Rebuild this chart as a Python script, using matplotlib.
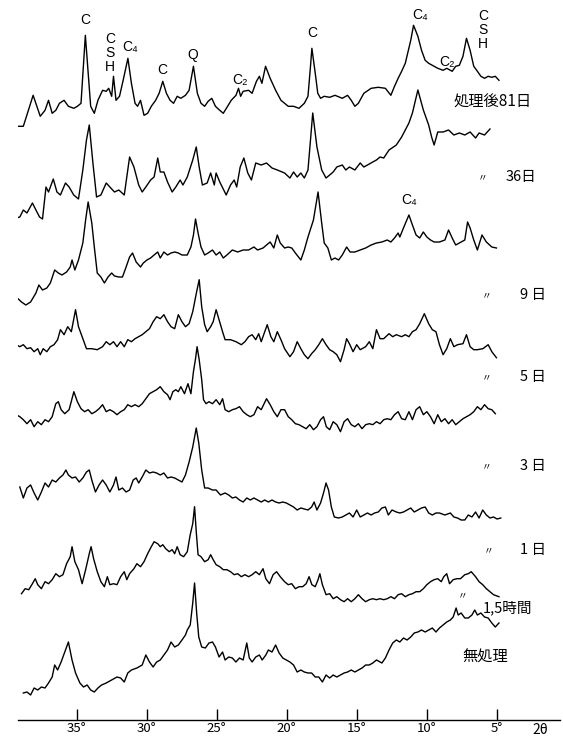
import numpy as np
from matplotlib import pyplot as plt

plt.rcParams['font.family'] = ['Noto Sans CJK JP', 'DejaVu Sans']

# XRD patterns: (2theta [deg], intensity [a.u.])
xrd_81d = [(39.45, 2), (38.81, 2), (38.11, 33), (37.60, 12), (37.26, 18), (37.01, 28), (36.75, 15), (36.49, 18),
           (36.23, 25), (35.90, 28), (35.59, 22), (35.20, 20), (34.95, 22), (34.69, 25), (34.38, 93), (34.00, 22),
           (33.74, 15), (33.48, 28), (33.15, 38), (32.89, 37), (32.71, 40), (32.50, 32), (32.37, 52), (32.19, 28),
           (31.94, 32), (31.68, 48), (31.34, 70), (31.09, 45), (30.83, 25), (30.65, 22), (30.44, 28), (30.19, 13),
           (29.93, 15), (29.67, 22), (29.36, 28), (29.11, 35), (28.85, 47), (28.59, 35), (28.33, 28), (28.08, 25),
           (27.82, 32), (27.56, 30), (27.23, 33), (26.97, 38), (26.66, 62), (26.38, 35), (26.12, 25), (25.86, 22),
           (25.61, 27), (25.35, 30), (25.09, 22), (24.78, 18), (24.53, 15), (24.22, 22), (23.96, 28), (23.62, 33),
           (23.44, 40), (23.29, 32), (23.11, 37), (22.72, 38), (22.47, 35), (22.16, 47), (21.95, 52), (21.77, 45),
           (21.51, 62), (21.18, 50), (20.79, 38), (20.41, 28), (19.89, 22), (19.51, 22), (19.12, 20), (18.74, 25),
           (18.48, 32), (18.30, 62), (18.20, 80), (17.96, 55), (17.78, 35), (17.58, 30), (17.32, 32), (16.93, 31),
           (16.55, 33), (16.03, 30), (15.65, 33), (15.39, 28), (15.13, 22), (14.88, 25), (14.49, 35), (13.97, 40),
           (13.46, 41), (12.95, 40), (12.56, 33), (12.30, 42), (12.04, 50), (11.79, 57), (11.53, 65), (11.14, 88),
           (10.94, 103), (10.63, 92), (10.37, 78), (10.11, 68), (9.86, 65), (9.60, 63), (9.21, 60), (8.83, 58),
           (8.57, 60), (8.18, 57), (7.93, 62), (7.67, 63), (7.41, 72), (7.16, 90), (6.90, 78), (6.64, 62),
           (6.38, 57), (6.13, 52), (5.87, 50), (5.61, 52), (5.35, 51), (5.10, 52), (4.84, 48)]

xrd_36d = [(39.32, 2), (39.06, 3), (38.81, 10), (38.55, 7), (38.16, 17), (37.91, 10), (37.65, 3), (37.44, 1),
           (37.19, 33), (37.01, 28), (36.67, 41), (36.41, 28), (36.16, 25), (35.80, 37), (35.54, 33), (35.21, 25),
           (34.87, 21), (34.56, 50), (34.30, 80), (34.10, 95), (33.84, 57), (33.58, 23), (33.27, 25), (32.89, 37),
           (32.63, 33), (32.30, 28), (31.99, 30), (31.60, 25), (31.22, 63), (30.91, 53), (30.57, 35), (30.32, 28),
           (30.06, 33), (29.72, 40), (29.47, 43), (29.21, 62), (29.03, 48), (28.77, 48), (28.51, 38), (28.18, 28),
           (27.92, 33), (27.61, 40), (27.41, 35), (27.10, 43), (26.71, 60), (26.46, 73), (26.25, 53), (26.02, 35),
           (25.68, 37), (25.43, 47), (25.17, 35), (25.04, 47), (24.78, 38), (24.32, 25), (24.01, 35), (23.75, 40),
           (23.57, 33), (23.32, 53), (23.06, 62), (22.78, 47), (22.52, 40), (22.21, 57), (21.82, 55), (21.44, 57),
           (21.05, 52), (20.67, 50), (20.15, 47), (19.77, 42), (19.51, 48), (19.25, 43), (18.99, 47), (18.74, 42),
           (18.48, 50), (18.30, 80), (18.14, 107), (17.84, 73), (17.50, 50), (17.19, 42), (16.93, 45), (16.68, 48),
           (16.42, 53), (16.03, 55), (15.78, 50), (15.52, 53), (15.13, 50), (14.75, 57), (14.49, 53), (14.23, 55),
           (13.85, 58), (13.59, 60), (13.33, 63), (13.07, 62), (12.69, 70), (12.17, 75), (11.79, 83), (11.53, 90),
           (11.27, 97), (11.02, 107), (10.63, 130), (10.24, 110), (9.86, 95), (9.65, 83), (9.47, 75), (9.21, 88),
           (8.83, 88), (8.44, 90), (8.06, 85), (7.67, 87), (7.28, 85), (6.90, 88), (6.51, 82), (6.26, 87),
           (5.87, 85), (5.48, 91)]

xrd_9d = [(39.32, 8), (38.94, 3), (38.63, 0), (38.29, 3), (37.91, 12), (37.70, 20), (37.44, 15), (37.13, 17),
          (36.88, 22), (36.57, 35), (36.31, 32), (36.05, 30), (35.72, 33), (35.46, 38), (35.33, 45), (35.13, 35),
          (34.87, 45), (34.56, 62), (34.36, 85), (34.18, 103), (33.92, 82), (33.74, 58), (33.53, 32), (33.27, 28),
          (33.02, 22), (32.76, 28), (32.50, 32), (32.30, 29), (31.99, 28), (31.73, 28), (31.47, 38), (31.22, 48),
          (31.01, 52), (30.75, 43), (30.44, 38), (30.24, 42), (29.98, 45), (29.72, 47), (29.47, 50), (29.21, 53),
          (29.03, 47), (28.77, 53), (28.51, 50), (28.26, 52), (28.00, 53), (27.74, 52), (27.48, 50), (27.10, 50),
          (26.84, 58), (26.66, 70), (26.51, 86), (26.33, 72), (26.12, 58), (25.86, 50), (25.61, 52), (25.30, 55),
          (25.04, 50), (24.78, 53), (24.53, 47), (24.27, 50), (23.88, 55), (23.50, 53), (23.11, 55), (22.72, 55),
          (22.34, 58), (22.08, 55), (21.69, 57), (21.44, 60), (21.18, 63), (20.92, 57), (20.67, 70), (20.46, 62),
          (20.15, 57), (19.89, 58), (19.64, 57), (19.38, 52), (18.99, 45), (18.74, 55), (18.48, 68), (18.09, 85),
          (17.76, 113), (17.50, 82), (17.32, 62), (17.06, 57), (16.81, 45), (16.55, 47), (16.29, 45), (16.03, 50),
          (15.72, 58), (15.47, 53), (15.13, 53), (14.75, 55), (14.36, 57), (13.97, 60), (13.59, 62), (13.20, 63),
          (12.82, 65), (12.56, 63), (12.30, 67), (12.04, 72), (11.92, 68), (11.66, 77), (11.27, 90), (11.02, 80),
          (10.76, 70), (10.50, 67), (10.24, 73), (9.99, 68), (9.73, 65), (9.47, 63), (9.09, 63), (8.70, 65),
          (8.44, 75), (8.18, 67), (7.93, 60), (7.67, 62), (7.28, 65), (7.08, 83), (6.90, 77), (6.64, 65),
          (6.38, 55), (6.05, 70), (5.74, 63), (5.35, 58), (5.02, 57)]

xrd_5d = [(39.32, 17), (39.06, 15), (38.81, 17), (38.55, 13), (38.29, 14), (38.04, 10), (37.78, 13), (37.60, 7),
          (37.39, 13), (37.13, 10), (36.88, 15), (36.62, 17), (36.36, 22), (36.16, 32), (35.90, 27), (35.64, 35),
          (35.38, 30), (35.08, 52), (34.87, 35), (34.61, 25), (34.30, 13), (33.92, 13), (33.53, 12), (33.15, 15),
          (32.89, 20), (32.63, 17), (32.37, 20), (32.12, 15), (31.86, 20), (31.60, 15), (31.35, 22), (31.09, 20),
          (30.83, 23), (30.57, 25), (30.32, 27), (30.06, 30), (29.80, 33), (29.54, 40), (29.29, 45), (29.03, 43),
          (28.77, 47), (28.51, 40), (28.26, 35), (28.00, 33), (27.74, 47), (27.48, 40), (27.23, 35), (26.97, 38),
          (26.71, 50), (26.46, 68), (26.25, 82), (26.07, 55), (25.86, 37), (25.68, 30), (25.43, 35), (25.25, 40),
          (25.04, 52), (24.83, 42), (24.58, 30), (24.40, 22), (24.01, 22), (23.62, 20), (23.24, 17), (22.98, 20),
          (22.72, 25), (22.47, 27), (22.21, 22), (22.00, 28), (21.82, 20), (21.64, 27), (21.39, 37), (21.13, 25),
          (20.92, 20), (20.67, 30), (20.41, 22), (20.15, 13), (19.77, 5), (19.51, 10), (19.25, 20), (18.99, 13),
          (18.74, 7), (18.48, 3), (18.22, 8), (17.96, 12), (17.71, 17), (17.45, 23), (17.19, 17), (16.93, 12),
          (16.68, 10), (16.42, 7), (16.16, 0), (15.90, 12), (15.72, 23), (15.52, 18), (15.26, 10), (15.00, 17),
          (14.75, 12), (14.36, 15), (14.10, 20), (13.85, 13), (13.59, 32), (13.33, 23), (13.07, 23), (12.69, 28),
          (12.43, 25), (12.17, 27), (11.79, 25), (11.53, 27), (11.27, 25), (11.02, 30), (10.76, 32), (10.50, 38),
          (10.17, 48), (9.86, 38), (9.60, 32), (9.34, 30), (9.09, 17), (8.83, 7), (8.57, 13), (8.31, 23),
          (8.06, 15), (7.80, 17), (7.41, 18), (7.16, 27), (6.90, 15), (6.64, 12), (6.38, 12), (5.99, 13),
          (5.61, 17), (5.35, 10), (5.02, 4)]

xrd_3d = [(39.32, 17), (39.06, 15), (38.81, 12), (38.55, 8), (38.29, 12), (38.04, 5), (37.78, 10), (37.52, 7),
          (37.26, 12), (37.01, 10), (36.75, 15), (36.49, 28), (36.31, 30), (36.11, 22), (35.85, 18), (35.54, 22),
          (35.20, 40), (34.95, 30), (34.69, 23), (34.43, 20), (34.18, 22), (33.92, 18), (33.66, 20), (33.40, 23),
          (33.15, 27), (32.89, 20), (32.63, 22), (32.37, 20), (32.12, 17), (31.86, 20), (31.60, 22), (31.35, 27),
          (31.09, 25), (30.83, 27), (30.57, 25), (30.32, 28), (30.06, 33), (29.80, 38), (29.54, 40), (29.29, 42),
          (29.03, 45), (28.77, 40), (28.51, 37), (28.33, 32), (28.13, 40), (27.92, 42), (27.74, 40), (27.56, 45),
          (27.30, 38), (27.05, 48), (26.84, 38), (26.66, 60), (26.51, 73), (26.40, 85), (26.25, 72), (26.07, 52),
          (25.94, 32), (25.76, 28), (25.55, 30), (25.30, 28), (25.04, 32), (24.78, 27), (24.58, 33), (24.40, 22),
          (24.14, 20), (23.88, 22), (23.63, 23), (23.37, 25), (23.11, 20), (22.85, 17), (22.60, 15), (22.34, 17),
          (22.08, 25), (21.82, 22), (21.44, 33), (21.18, 27), (20.92, 20), (20.67, 15), (20.41, 22), (20.15, 22),
          (19.89, 15), (19.64, 12), (19.38, 8), (19.12, 7), (18.86, 5), (18.61, 3), (18.35, 7), (18.09, 2),
          (17.84, 5), (17.58, 12), (17.37, 15), (17.17, 5), (16.93, 2), (16.68, 10), (16.42, 7), (16.16, 0),
          (15.90, 10), (15.65, 13), (15.39, 7), (15.13, 5), (14.88, 8), (14.62, 3), (14.36, 7), (14.10, 8),
          (13.85, 7), (13.59, 10), (13.33, 8), (13.07, 12), (12.82, 13), (12.56, 12), (12.30, 17), (12.04, 20),
          (11.79, 13), (11.53, 12), (11.27, 20), (11.02, 12), (10.76, 22), (10.50, 25), (10.24, 17), (9.99, 20),
          (9.73, 15), (9.47, 8), (9.21, 17), (8.96, 10), (8.70, 13), (8.44, 8), (8.18, 12), (7.93, 7),
          (7.67, 10), (7.41, 13), (7.16, 15), (6.90, 17), (6.64, 20), (6.38, 25), (6.13, 22), (5.87, 27),
          (5.61, 23), (5.35, 22), (5.10, 18)]

xrd_1d = [(39.06, 33), (38.81, 22), (38.55, 32), (38.29, 35), (38.04, 27), (37.78, 20), (37.52, 28), (37.26, 37),
          (37.01, 33), (36.75, 40), (36.49, 38), (36.23, 42), (35.98, 45), (35.77, 50), (35.59, 45), (35.33, 42),
          (35.08, 43), (34.82, 38), (34.56, 42), (34.30, 48), (34.10, 50), (33.92, 40), (33.66, 28), (33.40, 35),
          (33.15, 40), (32.89, 35), (32.63, 28), (32.37, 35), (32.19, 43), (31.99, 30), (31.73, 32), (31.47, 28),
          (31.22, 30), (30.96, 40), (30.75, 42), (30.57, 37), (30.32, 43), (30.06, 50), (29.80, 47), (29.54, 48),
          (29.29, 47), (29.03, 45), (28.77, 47), (28.51, 42), (28.26, 43), (28.00, 42), (27.74, 40), (27.48, 38),
          (27.23, 45), (26.97, 58), (26.71, 73), (26.46, 92), (26.28, 77), (26.07, 50), (25.86, 32), (25.61, 32),
          (25.30, 30), (25.04, 30), (24.73, 25), (24.40, 27), (24.14, 25), (23.88, 22), (23.63, 23), (23.37, 20),
          (23.11, 18), (22.85, 22), (22.60, 20), (22.34, 22), (22.08, 20), (21.82, 18), (21.57, 20), (21.31, 18),
          (21.05, 20), (20.79, 18), (20.54, 17), (20.28, 18), (20.02, 17), (19.77, 15), (19.51, 13), (19.25, 10),
          (18.99, 12), (18.74, 11), (18.48, 10), (18.22, 13), (18.04, 18), (17.84, 10), (17.58, 17), (17.37, 27),
          (17.19, 37), (17.01, 30), (16.81, 13), (16.60, 3), (16.29, 2), (16.03, 3), (15.78, 5), (15.52, 7),
          (15.26, 3), (15.00, 10), (14.75, 3), (14.49, 5), (14.23, 7), (13.97, 5), (13.72, 7), (13.46, 8),
          (13.20, 12), (12.95, 13), (12.74, 5), (12.48, 10), (12.17, 8), (11.92, 7), (11.66, 8), (11.40, 10),
          (11.14, 12), (10.89, 8), (10.63, 10), (10.37, 12), (10.11, 13), (9.86, 7), (9.60, 5), (9.34, 7),
          (9.09, 7), (8.70, 5), (8.31, 7), (8.06, 3), (7.80, 2), (7.54, 0), (7.28, 0), (7.03, 5),
          (6.77, 3), (6.51, 8), (6.26, 2), (6.00, 10), (5.74, 5), (5.48, 2), (5.23, 3), (4.97, 1), (4.71, 2)]

xrd_1h5 = [(38.94, 8), (38.68, 13), (38.42, 12), (38.16, 18), (37.96, 23), (37.78, 17), (37.52, 13), (37.26, 20),
           (37.01, 18), (36.75, 22), (36.49, 28), (36.23, 25), (35.98, 27), (35.72, 38), (35.46, 45), (35.33, 55),
           (35.13, 40), (34.87, 32), (34.61, 18), (34.36, 32), (34.10, 48), (33.97, 55), (33.79, 43), (33.53, 30),
           (33.27, 20), (33.02, 15), (32.81, 25), (32.63, 17), (32.37, 18), (32.12, 17), (31.86, 25), (31.60, 30),
           (31.42, 22), (31.22, 28), (30.91, 33), (30.70, 38), (30.44, 35), (30.19, 40), (29.93, 48), (29.67, 55),
           (29.47, 60), (29.21, 58), (29.03, 55), (28.85, 57), (28.64, 53), (28.39, 50), (28.18, 52), (28.00, 48),
           (27.82, 55), (27.61, 47), (27.36, 45), (27.10, 50), (26.89, 67), (26.71, 78), (26.58, 95), (26.46, 70),
           (26.33, 47), (26.12, 45), (25.86, 40), (25.61, 42), (25.43, 47), (25.25, 42), (25.04, 37), (24.78, 35),
           (24.53, 32), (24.27, 32), (24.01, 30), (23.75, 27), (23.50, 28), (23.24, 25), (22.98, 27), (22.72, 25),
           (22.47, 27), (22.21, 30), (21.95, 27), (21.69, 33), (21.49, 23), (21.23, 18), (20.97, 27), (20.72, 30),
           (20.46, 25), (20.15, 20), (19.89, 17), (19.64, 18), (19.38, 13), (19.12, 15), (18.86, 15), (18.61, 18),
           (18.40, 25), (18.20, 17), (17.96, 15), (17.76, 22), (17.63, 28), (17.45, 17), (17.19, 7), (16.93, 8),
           (16.68, 3), (16.42, 5), (16.16, 2), (15.90, 0), (15.65, 3), (15.39, 0), (15.13, 3), (14.88, 7),
           (14.62, 3), (14.36, 0), (14.10, 2), (13.85, 3), (13.59, 2), (13.33, 3), (13.07, 2), (12.82, 3),
           (12.56, 5), (12.30, 3), (12.04, 7), (11.79, 8), (11.53, 5), (11.27, 7), (11.02, 8), (10.76, 10),
           (10.50, 10), (10.24, 13), (9.99, 17), (9.73, 20), (9.47, 22), (9.21, 23), (8.96, 20), (8.78, 25),
           (8.57, 28), (8.37, 18), (8.11, 22), (7.85, 23), (7.59, 23), (7.28, 27), (7.03, 28), (6.82, 30),
           (6.51, 25), (6.26, 20), (6.00, 17), (5.74, 13), (5.48, 10), (5.23, 7), (4.84, 5)]

xrd_untreated = [(38.81, 2), (38.55, 3), (38.29, 0), (38.04, 7), (37.78, 5), (37.52, 8), (37.26, 7), (37.01, 12),
                 (36.75, 18), (36.57, 30), (36.36, 25), (36.11, 33), (35.85, 43), (35.59, 53), (35.33, 35),
                 (35.08, 22), (34.77, 12), (34.51, 8), (34.25, 10), (34.00, 5), (33.74, 3), (33.48, 7), (33.22, 10),
                 (32.89, 12), (32.50, 15), (32.12, 18), (31.86, 17), (31.60, 13), (31.35, 22), (31.09, 25),
                 (30.70, 27), (30.32, 30), (30.06, 40), (29.80, 33), (29.54, 28), (29.29, 33), (29.03, 35),
                 (28.77, 40), (28.51, 45), (28.26, 53), (28.00, 48), (27.74, 50), (27.48, 55), (27.23, 60),
                 (27.10, 65), (26.89, 70), (26.71, 92), (26.58, 112), (26.43, 82), (26.28, 58), (26.07, 48),
                 (25.81, 47), (25.55, 52), (25.30, 53), (25.09, 48), (24.83, 38), (24.58, 43), (24.40, 35),
                 (24.14, 38), (23.88, 37), (23.63, 33), (23.37, 37), (23.11, 35), (22.85, 52), (22.67, 37),
                 (22.47, 33), (22.21, 38), (21.95, 40), (21.75, 35), (21.49, 40), (21.31, 45), (21.05, 43),
                 (20.79, 50), (20.54, 42), (20.28, 37), (20.02, 35), (19.77, 33), (19.51, 30), (19.25, 23),
                 (18.99, 25), (18.74, 23), (18.48, 22), (18.22, 22), (17.96, 18), (17.71, 18), (17.45, 13),
                 (17.19, 20), (16.93, 17), (16.68, 20), (16.42, 18), (16.16, 20), (15.90, 22), (15.65, 23),
                 (15.39, 25), (15.13, 23), (14.88, 25), (14.62, 27), (14.36, 30), (14.10, 30), (13.85, 32),
                 (13.59, 35), (13.20, 32), (12.95, 37), (12.69, 45), (12.43, 52), (12.17, 55), (11.92, 53),
                 (11.66, 57), (11.40, 55), (11.14, 58), (10.89, 62), (10.63, 63), (10.37, 65), (10.11, 63),
                 (9.86, 65), (9.60, 67), (9.34, 63), (9.09, 67), (8.83, 70), (8.57, 73), (8.31, 75), (8.11, 78),
                 (7.90, 87), (7.75, 80), (7.54, 82), (7.28, 77), (7.03, 77), (6.77, 80), (6.57, 85), (6.38, 80),
                 (6.13, 82), (5.87, 78), (5.61, 77), (5.35, 72), (5.10, 68), (4.84, 72)]

patterns = [xrd_81d, xrd_36d, xrd_9d, xrd_5d, xrd_3d, xrd_1d, xrd_1h5, xrd_untreated]
sample_labels = ['処理後81日', '36日', '9 日', '5 日', '3 日', '1 日', '1,5時間', '無処理']
ditto = [False, True, True, True, True, True, True, False]

# phase marks on the top pattern (and one on the 9-day pattern)
peak_marks = ['C', 'C\nS\nH', 'C₄', 'C', 'Q', 'C₂', 'C', 'C₄', 'C₂', 'C\nS\nH', 'C₄']

tick_angles = [35, 30, 25, 20, 15, 10, 5]

# layout: vertical offsets of the stacked patterns and text placement
offsets = [611.7, 520, 435, 378.3, 308.3, 220, 138.3, 45]
label_pos = [(8.1, 638), (4.4, 563), (3.35, 445), (3.35, 363), (3.35, 274), (3.35, 190), (5.98, 132), (7.48, 83)]
ditto_pos = [None, (5.98, 563), (5.7, 445), (5.7, 363), (5.7, 274), (5.6, 190), (7.41, 145), None]
mark_pos = [(34.41, 720), (32.62, 687), (31.19, 693), (28.91, 670), (26.68, 685), (23.34, 660),
            (18.19, 707), (10.48, 725), (8.55, 678), (5.98, 710), (11.27, 540)]

fig = plt.figure(figsize=(5.63, 7.40), dpi=100)
ax = fig.add_axes([18 / 563, 20 / 740, 542 / 563, 720 / 740])

for pat, off in zip(patterns, offsets):
    tt, inten = np.array(pat).T
    ax.plot(tt, inten + off, color='black', lw=1.0)

for i, lab in enumerate(sample_labels):
    lx, ly = label_pos[i]
    ax.text(lx, ly, lab, fontsize=11 if not ditto[i] else 10.5, ha='left', va='center')
    if ditto[i]:
        dx, dy = ditto_pos[i]
        ax.text(dx, dy, '〃', fontsize=7, ha='center', va='center')

for txt, (px, py) in zip(peak_marks, mark_pos):
    ax.text(px, py, txt, fontsize=10, ha='center', va='center', linespacing=1.0,
            family=['Liberation Sans', 'DejaVu Sans'])

ax.set_xlim(39.19, 0.48)
ax.set_ylim(20, 740)
ax.set_xticks(tick_angles)
ax.set_xticklabels([f'{a}°' for a in tick_angles], fontsize=9.5)
ax.tick_params(axis='x', direction='in', length=8, width=1.0, pad=1.5)
ax.set_yticks([])
for side in ['left', 'right', 'top']:
    ax.spines[side].set_visible(False)
ax.spines['bottom'].set_linewidth(1.0)
ax.text(1.9, 10, '2θ', fontsize=10, ha='center', va='center', style='italic')

fig.savefig('out.png', dpi=100)
